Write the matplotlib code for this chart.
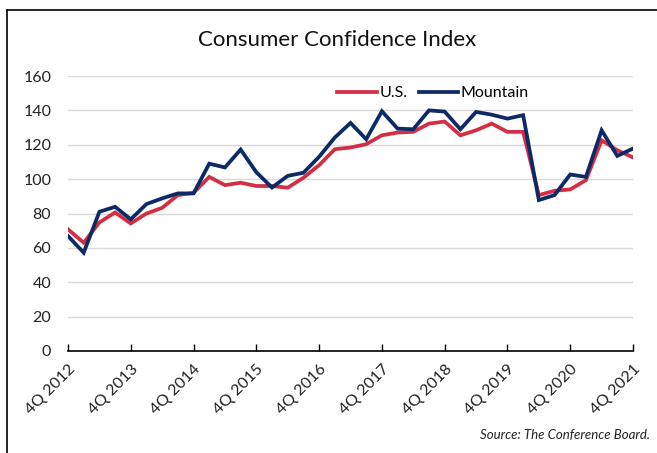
import matplotlib
matplotlib.use("Agg")
import matplotlib.pyplot as plt
from matplotlib.lines import Line2D

quarters = list(range(37))
tick_labels = ["4Q 2012", "4Q 2013", "4Q 2014", "4Q 2015", "4Q 2016",
               "4Q 2017", "4Q 2018", "4Q 2019", "4Q 2020", "4Q 2021"]
us = [70.8, 63.0, 74.8, 80.6, 74.2, 80.0, 83.3, 90.7, 92.0, 101.3, 96.5, 97.9,
      96.0, 96.0, 95.0, 100.8, 108.1, 117.4, 118.4, 120.3, 125.5, 127.1, 127.5,
      132.3, 133.5, 125.5, 128.4, 132.3, 127.5, 127.5, 90.7, 93.2, 94.0, 99.4,
      122.6, 116.8, 112.6]
mountain = [66.9, 57.2, 81.0, 83.9, 76.6, 85.5, 88.8, 91.7, 91.7, 109.0, 106.8,
            117.2, 104.0, 95.1, 101.9, 103.7, 113.0, 124.2, 132.7, 123.2, 139.5,
            129.4, 129.0, 140.0, 139.3, 129.0, 139.1, 137.5, 135.2, 137.2, 87.8,
            90.7, 102.7, 101.3, 128.4, 113.5, 117.8]
yticks = [0, 20, 40, 60, 80, 100, 120, 140, 160]

plt.rcParams['font.family'] = ['Lato', 'DejaVu Sans']

fig = plt.figure(figsize=(6.57, 4.53), dpi=100)
ax = fig.add_axes([68/657, 1-351/453, (633-68)/657, (351-76)/453])

red = '#d42e45'
blue = '#0b2a66'
ax.plot(quarters, us, color=red, lw=2.7, label='U.S.', solid_joinstyle='miter')
ax.plot(quarters, mountain, color=blue, lw=2.7, label='Mountain', solid_joinstyle='miter')

ax.set_xlim(0, 36)
ax.set_ylim(0, 160)
ax.set_yticks(yticks)
ax.set_yticklabels([str(v) for v in yticks], fontsize=11.5, color='#222222')
ax.yaxis.grid(True, color='#d9d9d9', lw=1.0)
ax.set_axisbelow(True)
ax.tick_params(axis='y', length=0, pad=12)
ax.set_xticks(list(range(0, 37, 4)))
ax.set_xticklabels(tick_labels, rotation=45, ha='right', rotation_mode='anchor',
                   fontsize=11.5, color='#222222')
ax.tick_params(axis='x', direction='in', length=5, width=1, pad=8, color='black')
for s in ['top', 'right', 'left']:
    ax.spines[s].set_visible(False)
ax.spines['bottom'].set_color('black')
ax.spines['bottom'].set_linewidth(1.2)

leg = ax.legend(loc='center', frameon=False,
                ncol=2, fontsize=11.5, handlelength=2.5, handletextpad=0.15,
                columnspacing=0.7)
leg.set_bbox_to_anchor(((433-68)/565, (351-93)/275), transform=ax.transAxes)

fig.text(337/657, 1-40/453, 'Consumer Confidence Index', ha='center', va='center',
         fontsize=16, color='#111111')
fig.text(650/657, 1-435/453, 'Source: The Conference Board.', ha='right', va='center',
         fontsize=9.5, style='italic', color='#222222')

fig.add_artist(Line2D([7/657, 7/657], [0, 1-10/453], transform=fig.transFigure,
                      color='black', lw=1.2))
fig.add_artist(Line2D([7/657, 1], [1-10/453, 1-10/453], transform=fig.transFigure,
                      color='black', lw=1.2))

fig.savefig('out.png', dpi=100)
